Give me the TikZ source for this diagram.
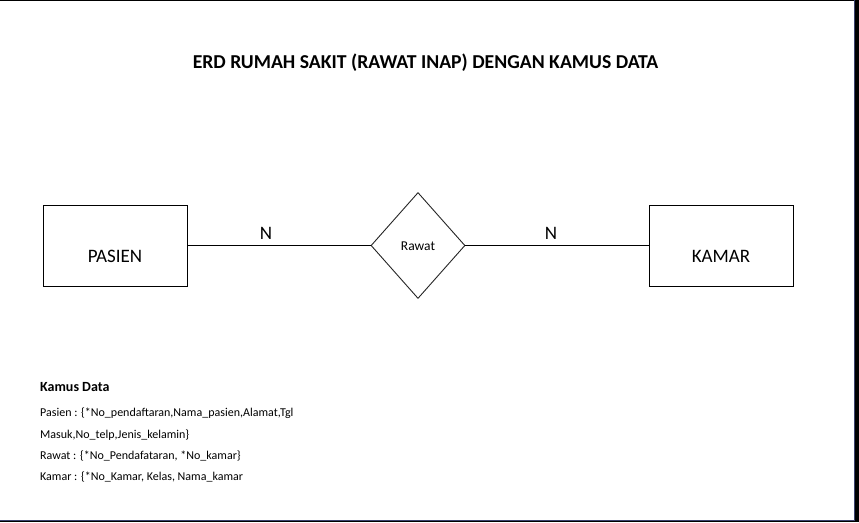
\documentclass[tikz,border=0pt]{standalone}
\usepackage{fontspec}
\setmainfont{Carlito}
\usetikzlibrary{shapes.geometric}
\definecolor{framenavy}{RGB}{60,66,110}
\begin{document}
\begin{tikzpicture}[x=1pt,y=-1pt,
  entity/.style={draw=black,line width=1pt,minimum width=144pt,minimum height=81pt,inner sep=0pt},
  rel/.style={draw=black!85,line width=0.9pt,diamond,minimum width=94pt,minimum height=106pt,inner sep=0pt},
  conn/.style={draw=black,line width=1pt},
  lbl/.style={inner sep=0pt,font=\fontsize{19}{22}\selectfont},
  card/.style={inner sep=0pt,font=\fontsize{19}{22}\selectfont},
  dict/.style={inner sep=0pt,anchor=west,font=\fontsize{12}{14}\selectfont}]
\useasboundingbox (0,0) rectangle (859,522);
\fill[white] (0,0) rectangle (859,522);
% window frame
\fill[black] (855,0) rectangle (859,522);
\fill[black] (0,520.5) rectangle (859,522);
\draw[line width=1pt,black] (0,0.5) -- (855,0.5);
\draw[line width=1pt,framenavy] (854.5,0) -- (854.5,520) -- (0,520);
% title
\node[inner sep=0pt,font=\bfseries\fontsize{19.7}{22}\selectfont] (title) at (425.5,63) {ERD RUMAH SAKIT (RAWAT INAP) DENGAN KAMUS DATA};
% entities
\node[entity] (pasien) at (115,245.5) {};
\node[lbl] (pasienlbl) at (115,256) {PASIEN};
\node[entity] (kamar) at (721,245.5) {};
\node[lbl] (kamarlbl) at (721,256) {KAMAR};
\node[rel] (rawat) at (418,245.5) {};
\node[inner sep=0pt,font=\fontsize{13.5}{16}\selectfont] (rawatlbl) at (418,246) {Rawat};
% connectors
\draw[conn] (pasien.east) -- (rawat.west);
\draw[conn] (rawat.east) -- (kamar.west);
\node[card] (n1) at (266,233) {N};
\node[card] (n2) at (551,233) {N};
% data dictionary
\node[dict,font=\bfseries\fontsize{14}{16}\selectfont] (kd) at (40,387) {Kamus Data};
\node[dict] (d1) at (40,413) {Pasien : \{*No\_pendaftaran,Nama\_pasien,Alamat,Tgl};
\node[dict] (d2) at (40,435) {Masuk,No\_telp,Jenis\_kelamin\}};
\node[dict] (d3) at (40,456) {Rawat : \{*No\_Pendafataran, *No\_kamar\}};
\node[dict] (d4) at (40,477) {Kamar : \{*No\_Kamar, Kelas, Nama\_kamar};
\end{tikzpicture}
\end{document}
